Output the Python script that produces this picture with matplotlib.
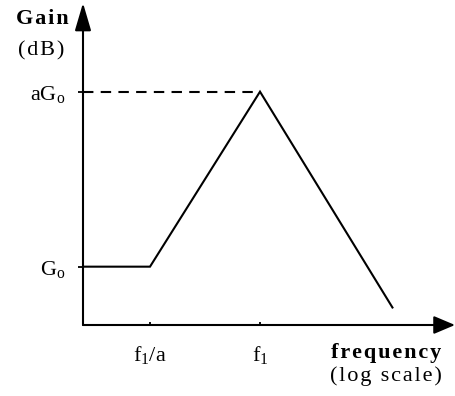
import matplotlib
matplotlib.use('Agg')
import matplotlib.pyplot as plt

# Gain vs frequency (frequency in units of f1/a, a = 10; gain in arbitrary steps)
freq = [0.246, 1, 10, 160]
gain = [1, 1, 4, 0.3]
# dashed reference at aGo
ref_freq = [0.246, 10]
ref_gain = [4, 4]

xtick_pos = [1, 10]
xtick_labels = [r'$\mathrm{f_1/a}$', r'$\mathrm{f_1}$']
ytick_pos = [1, 4]
ytick_labels = [r'$\mathrm{G_o}$', r'$\mathrm{aG_o}$']

plt.rcParams['font.family'] = ['Liberation Serif', 'DejaVu Serif']
plt.rcParams['mathtext.fontset'] = 'custom'
plt.rcParams['mathtext.rm'] = 'Liberation Serif'
plt.rcParams['mathtext.it'] = 'Liberation Serif:italic'
plt.rcParams['mathtext.bf'] = 'Liberation Serif:bold'


def spaced(s, sep='\u200a'):
    return sep.join(s)


fig = plt.figure(figsize=(4.56, 3.96), dpi=100)
ax = fig.add_axes([83 / 456, 71 / 396, (455 - 83) / 456, (325 - 3) / 396])

ax.plot(freq, gain, color='black', lw=1.5, solid_joinstyle='miter')
ax.plot(ref_freq, ref_gain, color='black', lw=1.5, dashes=(5, 3.5))

ax.set_xscale('log')
ax.set_xlim(10 ** (-67 / 110), 10 ** (305 / 110))
ax.set_ylim(0, 322 / 58.33)

for s in ax.spines.values():
    s.set_visible(False)

ax.minorticks_off()
ax.set_xticks(xtick_pos)
ax.set_xticklabels(xtick_labels, fontsize=16)
ax.set_yticks(ytick_pos)
ax.set_yticklabels(ytick_labels, fontsize=16)
ax.tick_params(axis='x', direction='in', length=2.5, width=1.3, pad=14)
ax.tick_params(axis='y', direction='out', length=3.6, width=1.3, pad=9)

# axes with arrow heads
ax.annotate('', xy=(1, 0), xytext=(0, 0), xycoords='axes fraction',
            arrowprops=dict(arrowstyle='-|>,head_length=1.3,head_width=0.55',
                            mutation_scale=10, lw=1.5, color='black',
                            shrinkA=0, shrinkB=0))
ax.annotate('', xy=(0, 1), xytext=(0, 0), xycoords='axes fraction',
            arrowprops=dict(arrowstyle='-|>,head_length=1.7,head_width=0.5',
                            mutation_scale=10, lw=1.5, color='black',
                            shrinkA=0, shrinkB=0))

fig.text(42 / 456, 1 - 19 / 396, spaced('Gain'), fontsize=16, fontweight='bold',
         ha='center', va='center')
fig.text(41 / 456, 1 - 51 / 396, spaced('(dB)'), fontsize=16,
         ha='center', va='center')
fig.text(386 / 456, 1 - 353 / 396, spaced('frequency'), fontsize=16,
         fontweight='bold', ha='center', va='center')
fig.text(386 / 456, 1 - 376 / 396, spaced('(log scale)'), fontsize=16,
         ha='center', va='center')

fig.savefig('out.png', dpi=100)
